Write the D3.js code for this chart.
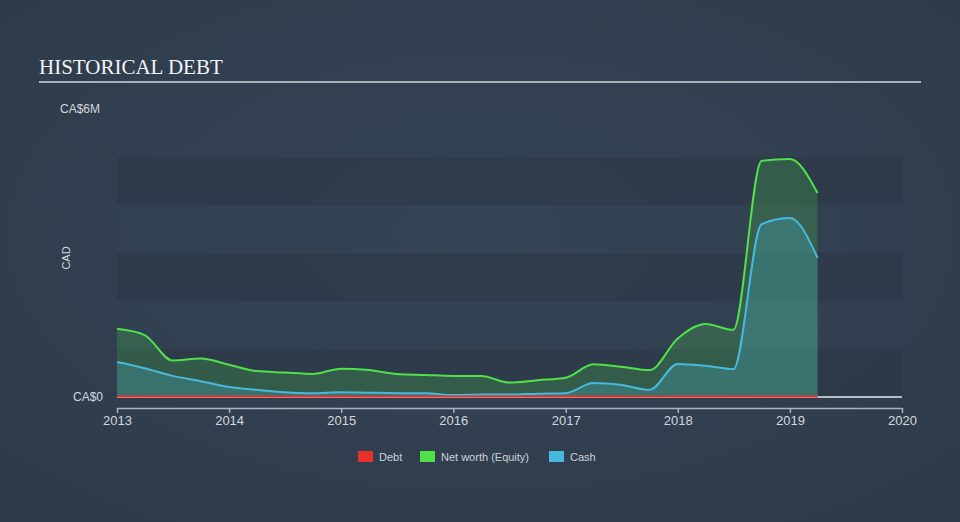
<!DOCTYPE html>
<html>
<head>
<meta charset="utf-8">
<script src="https://cdn.jsdelivr.net/npm/d3@7"></script>
<style>
  html, body { margin: 0; padding: 0; background: #334355; }
  svg { display: block; }
</style>
</head>
<body>
<div id="chart"></div>
<script>
// Quarterly balance sheet points (CA$ millions)
const dates = [
  "2013-01-01", "2013-04-01", "2013-07-01", "2013-10-01",
  "2014-01-01", "2014-04-01", "2014-07-01", "2014-10-01",
  "2015-01-01", "2015-04-01", "2015-07-01", "2015-10-01",
  "2016-01-01", "2016-04-01", "2016-07-01", "2016-10-01",
  "2017-01-01", "2017-04-01", "2017-07-01", "2017-10-01",
  "2018-01-01", "2018-04-01", "2018-07-01", "2018-10-01",
  "2019-01-01", "2019-04-01"
];
const equity = [
  1.42, 1.29, 0.76, 0.80,
  0.67, 0.54, 0.51, 0.48,
  0.59, 0.56, 0.48, 0.46,
  0.44, 0.44, 0.30, 0.35,
  0.40, 0.68, 0.63, 0.56,
  1.22, 1.52, 1.40, 4.92,
  4.96, 4.25
];
const cash = [
  0.73, 0.60, 0.44, 0.33,
  0.21, 0.15, 0.10, 0.08,
  0.10, 0.09, 0.08, 0.08,
  0.04, 0.05, 0.05, 0.07,
  0.08, 0.29, 0.25, 0.15,
  0.69, 0.65, 0.58, 3.60,
  3.73, 2.90
];
const debt = [
  0, 0, 0, 0, 0, 0, 0, 0, 0, 0, 0, 0, 0,
  0, 0, 0, 0, 0, 0, 0, 0, 0, 0, 0, 0, 0
];
const xTicks = ["2013", "2014", "2015", "2016", "2017", "2018", "2019", "2020"];
const legendItems = [
  { name: "Debt", color: "#e8302c" },
  { name: "Net worth (Equity)", color: "#4fe04a" },
  { name: "Cash", color: "#47b9dc" }
];

const width = 960, height = 522;
const parse = d3.timeParse("%Y-%m-%d");

const svg = d3.select("#chart").append("svg")
  .attr("width", width)
  .attr("height", height);

// background with a soft glow in the middle
const defs = svg.append("defs");
const grad = defs.append("radialGradient")
  .attr("id", "bg")
  .attr("cx", "50%").attr("cy", "45%").attr("r", "65%");
grad.append("stop").attr("offset", "0%").attr("stop-color", "#354556");
grad.append("stop").attr("offset", "100%").attr("stop-color", "#2f3b4b");
svg.append("rect")
  .attr("width", width).attr("height", height)
  .attr("fill", "url(#bg)");

const x = d3.scaleTime()
  .domain([parse("2013-01-01"), parse("2020-01-01")])
  .range([117, 902]);
const y = d3.scaleLinear()
  .domain([0, 6])
  .range([397, 109]);

// Horizontal bands (darker every other million)
svg.append("g").selectAll("rect")
  .data([0, 2, 4])
  .enter().append("rect")
  .attr("x", x.range()[0])
  .attr("width", x.range()[1] - x.range()[0])
  .attr("y", d => y(d + 1))
  .attr("height", d => y(d) - y(d + 1))
  .attr("fill", "#2b3746")
  .attr("opacity", 0.55);
svg.append("g").selectAll("rect")
  .data([1, 3])
  .enter().append("rect")
  .attr("x", x.range()[0])
  .attr("width", x.range()[1] - x.range()[0])
  .attr("y", d => y(d + 1))
  .attr("height", d => y(d) - y(d + 1))
  .attr("fill", "#34445a")
  .attr("opacity", 0.2);

// Title
svg.append("text")
  .attr("x", 39).attr("y", 74)
  .attr("font-family", "'Liberation Serif', 'DejaVu Serif', serif")
  .attr("font-size", 21)
  .attr("fill", "#f2f4f6")
  .text("HISTORICAL DEBT");
svg.append("line")
  .attr("x1", 39).attr("x2", 921)
  .attr("y1", 82).attr("y2", 82)
  .attr("stroke", "#a9b0b9")
  .attr("stroke-width", 2);

const labelFont = "'Liberation Sans', Arial, sans-serif";

// Y labels
svg.append("text")
  .attr("x", 60).attr("y", 113)
  .attr("font-family", labelFont).attr("font-size", 12)
  .attr("fill", "#d4d8de")
  .text("CA$6M");
svg.append("text")
  .attr("x", 103).attr("y", 401)
  .attr("text-anchor", "end")
  .attr("font-family", labelFont).attr("font-size", 12)
  .attr("fill", "#d4d8de")
  .text("CA$0");
svg.append("text")
  .attr("transform", "translate(70,258) rotate(-90)")
  .attr("text-anchor", "middle")
  .attr("font-family", labelFont).attr("font-size", 11)
  .attr("fill", "#d4d8de")
  .text("CAD");

const series = dates.map((d, i) => ({
  date: parse(d),
  equity: equity[i],
  cash: cash[i],
  debt: debt[i]
}));

const curve = d3.curveMonotoneX;
const areaOf = key => d3.area()
  .x(d => x(d.date))
  .y0(y(0))
  .y1(d => y(d[key]))
  .curve(curve);
const lineOf = key => d3.line()
  .x(d => x(d.date))
  .y(d => y(d[key]))
  .curve(curve);

// baseline
svg.append("line")
  .attr("x1", x.range()[0]).attr("x2", x.range()[1])
  .attr("y1", y(0)).attr("y2", y(0))
  .attr("stroke", "#e6e9ed")
  .attr("stroke-width", 1.5);

svg.append("path")
  .datum(series)
  .attr("d", areaOf("equity"))
  .attr("fill", "#4fe04a")
  .attr("fill-opacity", 0.2);
svg.append("path")
  .datum(series)
  .attr("d", areaOf("cash"))
  .attr("fill", "#47b9dc")
  .attr("fill-opacity", 0.25);

svg.append("path")
  .datum(series)
  .attr("d", lineOf("equity"))
  .attr("fill", "none")
  .attr("stroke", "#4fe04a")
  .attr("stroke-width", 2);
svg.append("path")
  .datum(series)
  .attr("d", lineOf("cash"))
  .attr("fill", "none")
  .attr("stroke", "#47b9dc")
  .attr("stroke-width", 2);
svg.append("path")
  .datum(series)
  .attr("d", lineOf("debt"))
  .attr("fill", "none")
  .attr("stroke", "#e8302c")
  .attr("stroke-width", 2)
  .attr("transform", "translate(0,-0.5)");

// X axis
const xAxis = d3.axisBottom(x)
  .tickValues(xTicks.map(t => parse(t + "-01-01")))
  .tickFormat(d3.timeFormat("%Y"))
  .tickSize(5)
  .tickSizeOuter(0);
const gx = svg.append("g")
  .attr("transform", "translate(0,408)")
  .call(xAxis);
gx.select(".domain").attr("stroke", "#a9b3c0").attr("stroke-width", 1.5);
gx.selectAll(".tick line").attr("stroke", "#a9b3c0").attr("stroke-width", 1.5);
gx.selectAll(".tick text")
  .attr("y", 8)
  .attr("fill", "#d4d8de")
  .attr("font-family", labelFont)
  .attr("font-size", 13);

// Legend
const legendX = [358, 420, 549];
const legend = svg.append("g").selectAll("g")
  .data(legendItems)
  .enter().append("g")
  .attr("transform", (d, i) => `translate(${legendX[i]},451)`);
legend.append("rect")
  .attr("width", 15).attr("height", 11)
  .attr("fill", d => d.color);
legend.append("text")
  .attr("x", 21).attr("y", 10)
  .attr("font-family", labelFont).attr("font-size", 11)
  .attr("fill", "#ccd1d8")
  .text(d => d.name);
</script>
</body>
</html>
